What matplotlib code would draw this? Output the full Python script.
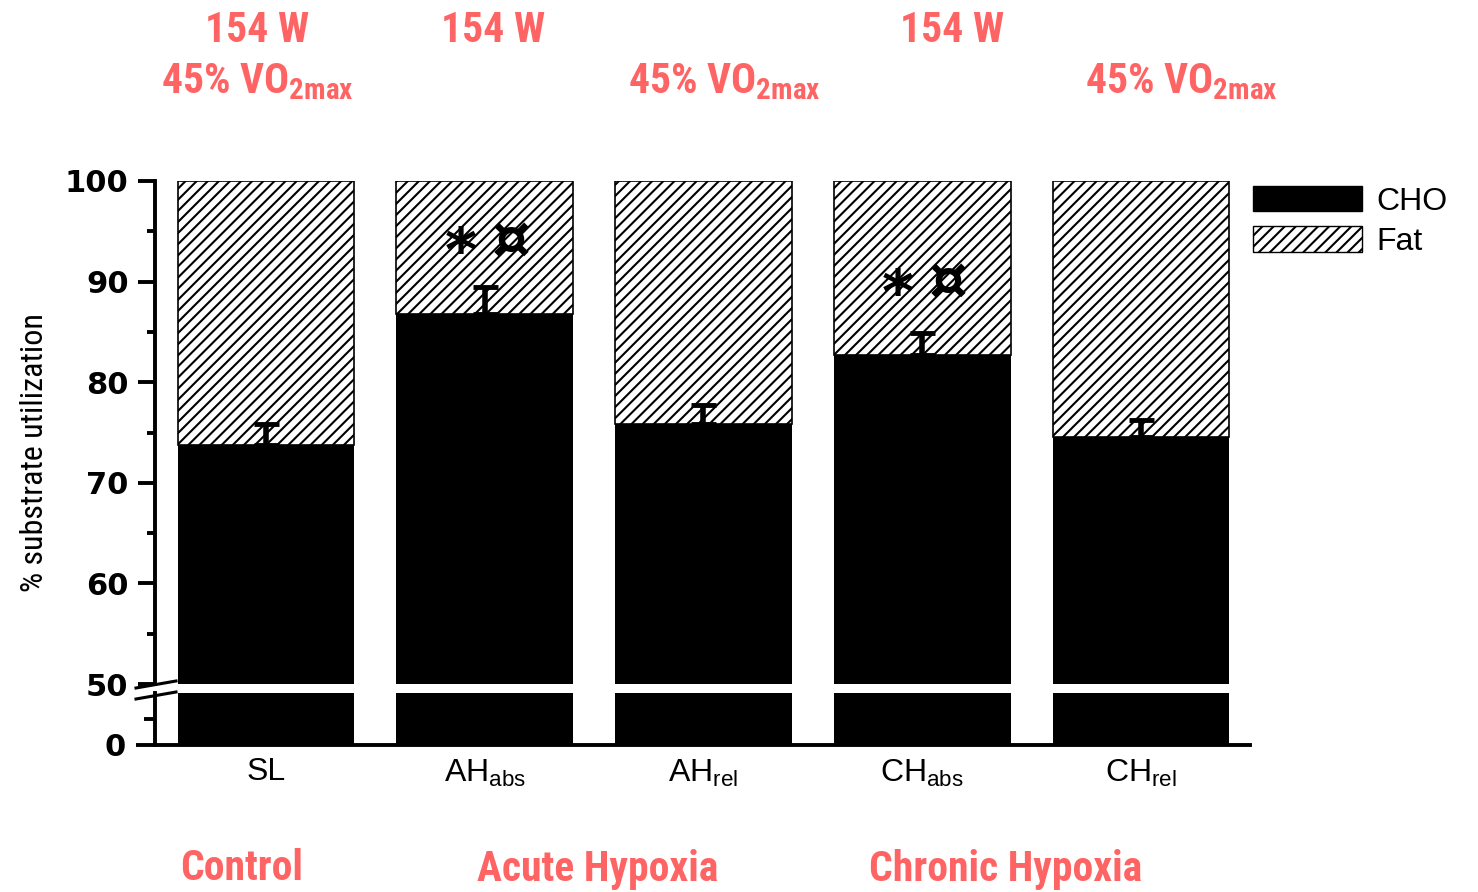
import numpy as np
import matplotlib.pyplot as plt
from matplotlib import font_manager
from matplotlib.lines import Line2D
from matplotlib.patches import Patch

# data
groups = ['SL', r'AH$_{\mathdefault{abs}}$', r'AH$_{\mathdefault{rel}}$',
          r'CH$_{\mathdefault{abs}}$', r'CH$_{\mathdefault{rel}}$']
cho = [73.8, 86.8, 75.8, 82.7, 74.6]
cho_err = [2.0, 2.7, 1.9, 2.2, 1.6]
fat = [100 - c for c in cho]
sig_idx = [1, 3]
sig_y = [94.2, 90.1]

red = '#ff6464'
installed = {f.name for f in font_manager.fontManager.ttflist}
narrow = 'Roboto'
for name in ['Liberation Sans Narrow', 'Roboto Condensed', 'Open Sans Condensed']:
    if name in installed:
        narrow = name
        break
plt.rcParams['hatch.linewidth'] = 1.5

fig = plt.figure(figsize=(14.78, 8.92), dpi=100)
W, H = 1478, 892

def box(x0, y0, x1, y1):
    return [x0 / W, 1 - y1 / H, (x1 - x0) / W, (y1 - y0) / H]

ax = fig.add_axes(box(155, 181, 1250, 684))
ax_lo = fig.add_axes(box(155, 693, 1250, 745))

x = np.arange(len(groups))
bw = 0.808

ax.bar(x, cho, width=bw, bottom=0, color='black', zorder=2)
ax.bar(x, fat, width=bw, bottom=cho, color='white', edgecolor='black',
       hatch='///', linewidth=1.2, zorder=2)
ax.errorbar(x, cho, yerr=[[0] * len(cho), cho_err], fmt='none', ecolor='black',
            elinewidth=4, capsize=9, capthick=3.5, zorder=3)
for i, yy in zip(sig_idx, sig_y):
    ax.annotate('*', xy=(x[i] - 0.11, yy), xytext=(0, -32), textcoords='offset pixels',
                ha='center', va='baseline', fontsize=44, fontweight='bold', zorder=4)
    ax.annotate('\u00a4', xy=(x[i] + 0.12, yy), xytext=(0, -19), textcoords='offset pixels',
                ha='center', va='baseline', fontsize=44, fontweight='bold', zorder=4)

ax.set_xlim(-0.507, 4.498)
ax.set_ylim(50, 100)
ax.set_yticks(np.arange(50, 101, 10))
ax.set_yticks(np.arange(55, 100, 10), minor=True)
ax.set_xticks([])
for s in ['top', 'right', 'bottom']:
    ax.spines[s].set_visible(False)
ax.spines['left'].set_linewidth(2.8)
ax.tick_params(axis='y', which='major', length=12, width=2.8, pad=7,
               labelsize=22)
ax.tick_params(axis='y', which='minor', length=6, width=2.8)
for t in ax.get_yticklabels():
    t.set_fontweight('bold')

ax_lo.bar(x, cho, width=bw, color='black', zorder=2)
ax_lo.set_xlim(-0.507, 4.498)
ax_lo.set_ylim(0, 50)
ax_lo.set_yticks([0])
ax_lo.set_yticks([25], minor=True)
ax_lo.set_xticks(x)
ax_lo.set_xticklabels(groups, fontsize=23, family='Liberation Sans')
for s in ['top', 'right']:
    ax_lo.spines[s].set_visible(False)
ax_lo.spines['left'].set_linewidth(2.8)
ax_lo.spines['bottom'].set_linewidth(2.8)
ax_lo.tick_params(axis='y', which='major', length=14, width=2.8, pad=7,
                  labelsize=22)
ax_lo.tick_params(axis='y', which='minor', length=8, width=2.8)
ax_lo.tick_params(axis='x', length=0, pad=9)
for t in ax_lo.get_yticklabels():
    t.set_fontweight('bold')

# axis break marks
for y0 in [688, 699]:
    fig.add_artist(Line2D([136 / W, 176 / W], [1 - y0 / H, 1 - (y0 - 7) / H],
                          transform=fig.transFigure, color='black', lw=2.2))

fig.text(35 / W, 1 - 452 / H, '% substrate utilization', rotation=90,
         ha='center', va='center', fontsize=23, family=narrow)

handles = [Patch(facecolor='black', edgecolor='black', label='CHO'),
           Patch(facecolor='white', edgecolor='black', hatch='///', label='Fat')]
fig.legend(handles=handles, loc='upper left', bbox_to_anchor=(1253 / W, 1 - 186 / H),
           frameon=False, handlelength=3.4, handleheight=0.84,
           labelspacing=0.3, handletextpad=0.47, borderpad=0, borderaxespad=0,
           prop={'family': 'Liberation Sans', 'size': 23})

top_labels = [(257, 30, '154 W'), (493, 30, '154 W'), (952, 30, '154 W'),
              (257, 82, r'45% VO$_{\mathdefault{2max}}$'),
              (724, 82, r'45% VO$_{\mathdefault{2max}}$'),
              (1181, 82, r'45% VO$_{\mathdefault{2max}}$'),
              (242, 869, 'Control'), (598, 869, 'Acute Hypoxia'),
              (1006, 869, 'Chronic Hypoxia')]
for px, py, s in top_labels:
    fig.text(px / W, 1 - py / H, s, ha='center', va='center', fontsize=30,
             fontweight='bold', color=red, family=narrow)

fig.savefig('out.png', dpi=100)
